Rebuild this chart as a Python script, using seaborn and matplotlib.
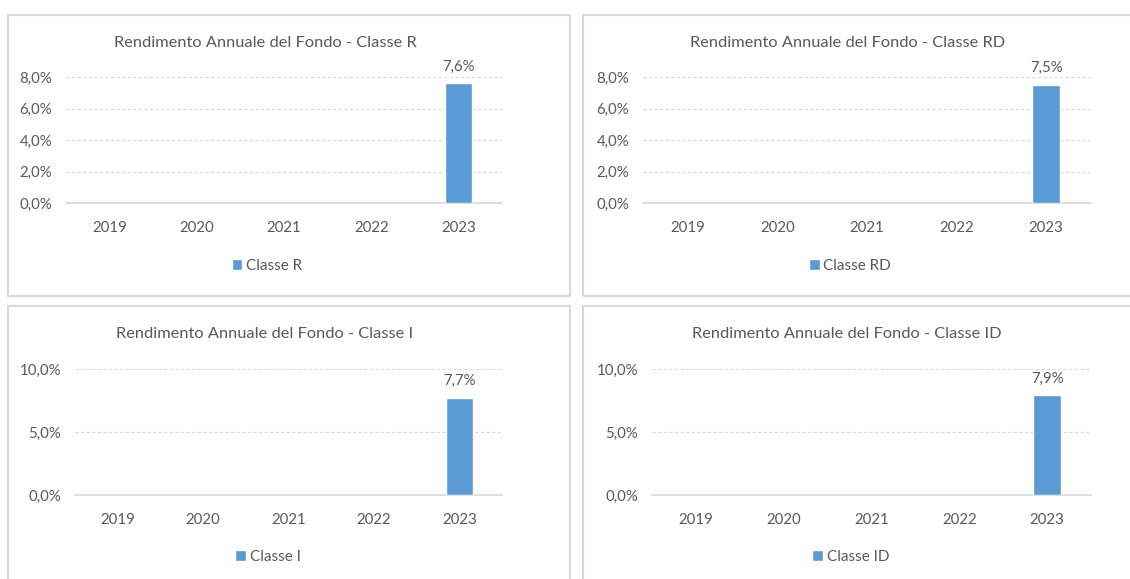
import numpy as np
import pandas as pd
import seaborn as sns
import matplotlib.pyplot as plt
from matplotlib.patches import Rectangle

# dati
anni = ["2019", "2020", "2021", "2022", "2023"]
classi = ["Classe R", "Classe RD", "Classe I", "Classe ID"]
rend_R = [np.nan, np.nan, np.nan, np.nan, 7.6]
rend_RD = [np.nan, np.nan, np.nan, np.nan, 7.5]
rend_I = [np.nan, np.nan, np.nan, np.nan, 7.7]
rend_ID = [np.nan, np.nan, np.nan, np.nan, 7.9]
tick_alti = [0, 2, 4, 6, 8]
tick_bassi = [0, 5, 10]

sns.set_style("white")
plt.rcParams['font.family'] = ['Lato', 'DejaVu Sans']

W, H = 1130, 579
grigio = "#595959"
linea = "#D9D9D9"
blu = "#5B9BD5"

fig = plt.figure(figsize=(W / 100, H / 100), dpi=100)

def px_box(x0, y0, x1, y1):
    return [x0 / W, 1 - y1 / H, (x1 - x0) / W, (y1 - y0) / H]

# cornici dei grafici
for (x0, y0, x1, y1) in [(8, 15, 570, 296), (583, 15, 1140, 296),
                         (8, 306, 570, 590), (583, 306, 1140, 590)]:
    fig.patches.append(Rectangle((x0 / W, 1 - y1 / H), (x1 - x0) / W, (y1 - y0) / H,
                                 transform=fig.transFigure, fill=False,
                                 edgecolor=linea, linewidth=1.5))

pannelli = [
    (classi[0], rend_R, tick_alti, (66, 77, 502, 203), (265, 43), (267, 266)),
    (classi[1], rend_RD, tick_alti, (643, 77, 1091, 203), (848, 43), (850, 266)),
    (classi[2], rend_I, tick_bassi, (75, 369, 502, 495), (265, 334), (268, 557)),
    (classi[3], rend_ID, tick_bassi, (652, 369, 1091, 495), (847, 334), (851, 557)),
]

for nome, valori, ticks, box, tpos, lpos in pannelli:
    ax = fig.add_axes(px_box(*box))
    df = pd.DataFrame({"anno": anni, "valore": valori})
    sns.barplot(data=df, x="anno", y="valore", order=anni, color=blu,
                width=0.31, saturation=1, label=nome, ax=ax, zorder=3)
    ax.set_ylim(ticks[0], ticks[-1])
    ax.set_xlim(-0.5, 4.5)
    ax.set_yticks(ticks)
    ax.set_yticklabels([f"{t:.1f}%".replace(".", ",") for t in ticks])
    ax.set_xlabel("")
    ax.set_ylabel("")
    ax.yaxis.grid(True, color=linea, linestyle=(0, (3, 2)), linewidth=0.8, zorder=0)
    ax.set_axisbelow(True)
    for s in ["top", "left", "right"]:
        ax.spines[s].set_visible(False)
    ax.spines["bottom"].set_color(linea)
    ax.spines["bottom"].set_linewidth(1.2)
    ax.tick_params(axis="x", length=0, pad=13, labelsize=10.8, colors=grigio)
    ax.tick_params(axis="y", length=0, pad=10, labelsize=10.8, colors=grigio)

    # etichette dei valori
    for i, v in enumerate(valori):
        if not np.isnan(v):
            ax.annotate(f"{v:.1f}%".replace(".", ","), (i, v), xytext=(0, 12),
                        textcoords="offset points", ha="center", va="center",
                        fontsize=10.8, color=grigio, annotation_clip=False)

    fig.text(tpos[0] / W, 1 - tpos[1] / H, "Rendimento Annuale del Fondo - " + nome,
             ha="center", va="center", fontsize=11.8, color=grigio)

    ax.legend(loc="center", bbox_to_anchor=(lpos[0] / W, 1 - lpos[1] / H),
              bbox_transform=fig.transFigure, frameon=False, fontsize=11,
              handlelength=0.7, handleheight=0.7, handletextpad=0.25,
              labelcolor=grigio)

plt.savefig("out.png", dpi=100)
